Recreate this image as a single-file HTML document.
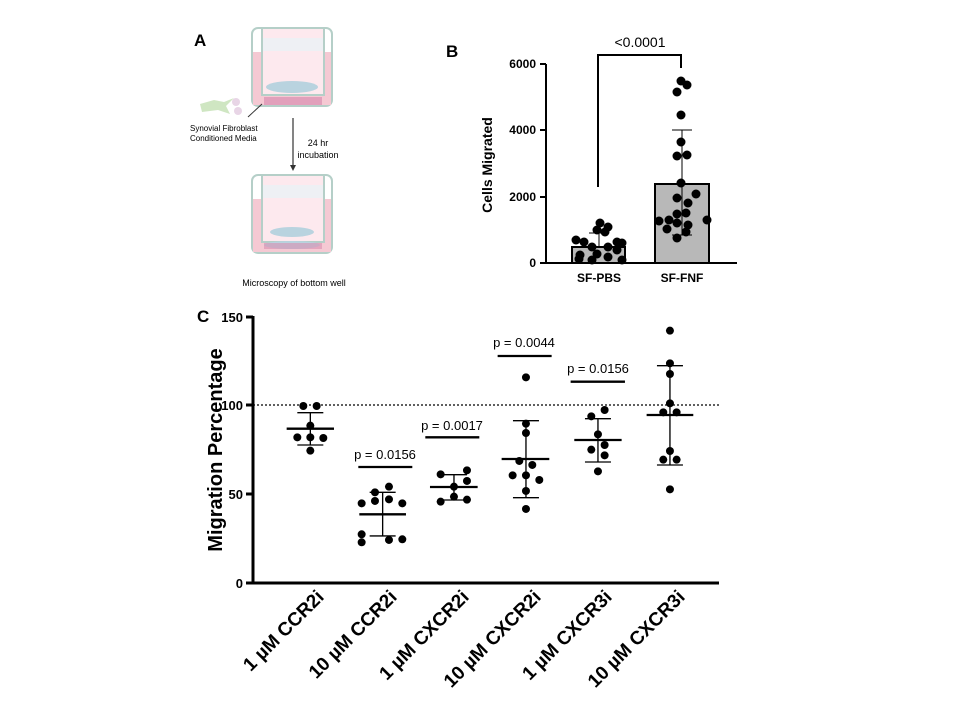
<!DOCTYPE html>
<html><head><meta charset="utf-8"><style>body{margin:0;background:#fff}svg{display:block}</style></head>
<body>
<svg width="960" height="720" viewBox="0 0 960 720" xmlns="http://www.w3.org/2000/svg" font-family="Liberation Sans, Arial, sans-serif">
<rect width="960" height="720" fill="#fff"/>
<!-- Panel A -->
<text x="194" y="46" font-size="17" font-weight="bold">A</text>
<g stroke="#b5cfc8" stroke-width="2" fill="none">
<rect x="252" y="28" width="80" height="78" rx="6" fill="#fff"/>
<rect x="252" y="175" width="80" height="78" rx="6" fill="#fff"/>
</g>
<rect x="253" y="52" width="78" height="53" fill="#f5c9d3"/>
<rect x="253" y="199" width="78" height="53" fill="#f5c9d3"/>
<rect x="262" y="28" width="62" height="67" fill="#fde9ee" stroke="#b5cfc8" stroke-width="2"/>
<rect x="262" y="175" width="62" height="67" fill="#fde9ee" stroke="#b5cfc8" stroke-width="2"/>
<rect x="263" y="38" width="60" height="13" fill="#eef0f4"/>
<rect x="263" y="185" width="60" height="13" fill="#eef0f4"/>
<g fill="#b9d3df">
<ellipse cx="292" cy="87" rx="26" ry="6"/><ellipse cx="292" cy="232" rx="22" ry="5"/>
<ellipse cx="292" cy="245" rx="28" ry="4"/>
</g>
<g fill="#d98fb0"><rect x="264" y="97" width="58" height="8" opacity="0.7"/><rect x="264" y="243" width="58" height="6" opacity="0.6"/></g>
<path d="M200 104 l14 -4 l10 2 l10 -4 l-8 8 l4 8 l-12 -4 l-16 2z" fill="#cfe6c2"/>
<circle cx="236" cy="102" r="4" fill="#e8d5e6"/><circle cx="238" cy="111" r="4" fill="#e8d5e6"/>
<line x1="248" y1="117" x2="262" y2="104" stroke="#333" stroke-width="1"/>
<text x="190" y="131" font-size="8">Synovial Fibroblast</text>
<text x="190" y="141" font-size="8">Conditioned Media</text>
<line x1="293" y1="118" x2="293" y2="168" stroke="#333" stroke-width="1.2"/>
<path d="M290 165 l3 6 l3 -6z" fill="#333"/>
<text x="318" y="146" font-size="9" text-anchor="middle">24 hr</text>
<text x="318" y="158" font-size="9" text-anchor="middle">incubation</text>
<text x="294" y="286" font-size="9" text-anchor="middle">Microscopy of bottom well</text>

<!-- Panel B -->
<text x="446" y="57" font-size="17" font-weight="bold">B</text>
<g stroke="#000" stroke-width="2" fill="none">
<line x1="546" y1="64" x2="546" y2="263"/><line x1="546" y1="263" x2="737" y2="263"/>
<line x1="540" y1="64" x2="546" y2="64"/><line x1="540" y1="130" x2="546" y2="130"/><line x1="540" y1="197" x2="546" y2="197"/><line x1="540" y1="263" x2="546" y2="263"/>
<rect x="572" y="247" width="53" height="16" fill="#b8b8b8"/>
<rect x="655" y="184" width="54" height="79" fill="#b8b8b8"/>
<polyline points="598,187 598,55 681,55 681,68"/>
</g>
<g stroke="#000" stroke-width="1"><line x1="682" y1="130" x2="682" y2="235"/><line x1="672" y1="130" x2="692" y2="130"/><line x1="672" y1="235" x2="692" y2="235"/>
<line x1="599" y1="233" x2="599" y2="247"/><line x1="589" y1="233" x2="609" y2="233"/></g>
<g font-size="12" font-weight="bold" text-anchor="end"><text x="536" y="68">6000</text><text x="536" y="134">4000</text><text x="536" y="201">2000</text><text x="536" y="267">0</text></g>
<text x="640" y="47" font-size="14" text-anchor="middle">&lt;0.0001</text>
<text x="599" y="282" font-size="12" font-weight="bold" text-anchor="middle">SF-PBS</text>
<text x="682" y="282" font-size="12" font-weight="bold" text-anchor="middle">SF-FNF</text>
<text transform="translate(492,165) rotate(-90)" font-size="14" font-weight="bold" text-anchor="middle">Cells Migrated</text>
<g fill="#000">
<circle cx="681" cy="81" r="4.5"/><circle cx="687" cy="85" r="4.5"/><circle cx="677" cy="92" r="4.5"/><circle cx="681" cy="115" r="4.5"/><circle cx="681" cy="142" r="4.5"/><circle cx="677" cy="156" r="4.5"/><circle cx="687" cy="155" r="4.5"/><circle cx="681" cy="183" r="4.5"/><circle cx="696" cy="194" r="4.5"/><circle cx="677" cy="198" r="4.5"/><circle cx="688" cy="203" r="4.5"/><circle cx="677" cy="214" r="4.5"/><circle cx="686" cy="213" r="4.5"/><circle cx="669" cy="220" r="4.5"/><circle cx="659" cy="221" r="4.5"/><circle cx="677" cy="223" r="4.5"/><circle cx="707" cy="220" r="4.5"/><circle cx="688" cy="225" r="4.5"/><circle cx="667" cy="229" r="4.5"/><circle cx="686" cy="232" r="4.5"/><circle cx="677" cy="238" r="4.5"/>
<circle cx="600" cy="223" r="4.5"/><circle cx="608" cy="227" r="4.5"/><circle cx="597" cy="230" r="4.5"/><circle cx="605" cy="232" r="4.5"/><circle cx="576" cy="240" r="4.5"/><circle cx="584" cy="242" r="4.5"/><circle cx="617" cy="242" r="4.5"/><circle cx="592" cy="247" r="4.5"/><circle cx="608" cy="247" r="4.5"/><circle cx="617" cy="250" r="4.5"/><circle cx="622" cy="243" r="4.5"/><circle cx="580" cy="255" r="4.5"/><circle cx="597" cy="254" r="4.5"/><circle cx="608" cy="257" r="4.5"/><circle cx="592" cy="260" r="4.5"/><circle cx="622" cy="260" r="4.5"/><circle cx="579" cy="259" r="4.5"/>
</g>

<!-- Panel C -->
<text x="197" y="322" font-size="17" font-weight="bold">C</text>
<g stroke="#000" stroke-width="3" fill="none">
<line x1="253" y1="316" x2="253" y2="584"/><line x1="252" y1="583" x2="719" y2="583"/>
<line x1="246" y1="317" x2="253" y2="317"/><line x1="246" y1="405" x2="253" y2="405"/><line x1="246" y1="494" x2="253" y2="494"/><line x1="246" y1="583" x2="253" y2="583"/>
</g>
<line x1="253" y1="405" x2="719" y2="405" stroke="#000" stroke-width="1.3" stroke-dasharray="2,2"/>
<g font-size="13" font-weight="bold" text-anchor="end"><text x="243" y="322">150</text><text x="243" y="410">100</text><text x="243" y="499">50</text><text x="243" y="588">0</text></g>
<text transform="translate(222,450) rotate(-90)" font-size="20" font-weight="bold" text-anchor="middle">Migration Percentage</text>
<g transform="translate(200,300) scale(0.3333)" stroke="#000" stroke-width="4" fill="none">
<line x1="331" y1="338" x2="331" y2="435"/><line x1="292" y1="338" x2="370" y2="338"/><line x1="292" y1="435" x2="370" y2="435"/>
<line x1="548" y1="577" x2="548" y2="708"/><line x1="509" y1="577" x2="587" y2="577"/><line x1="509" y1="708" x2="587" y2="708"/>
<line x1="762" y1="524" x2="762" y2="600"/><line x1="723" y1="524" x2="801" y2="524"/><line x1="723" y1="600" x2="801" y2="600"/>
<line x1="978" y1="362" x2="978" y2="593"/><line x1="939" y1="362" x2="1017" y2="362"/><line x1="939" y1="593" x2="1017" y2="593"/>
<line x1="1194" y1="356" x2="1194" y2="486"/><line x1="1155" y1="356" x2="1233" y2="356"/><line x1="1155" y1="486" x2="1233" y2="486"/>
<line x1="1410" y1="197" x2="1410" y2="495"/><line x1="1371" y1="197" x2="1449" y2="197"/><line x1="1371" y1="495" x2="1449" y2="495"/>
</g>
<g transform="translate(200,300) scale(0.3333)" stroke="#000" stroke-width="7">
<line x1="260" y1="386" x2="402" y2="386"/><line x1="478" y1="643" x2="618" y2="643"/><line x1="690" y1="561" x2="833" y2="561"/><line x1="905" y1="477" x2="1048" y2="477"/><line x1="1123" y1="420" x2="1265" y2="420"/><line x1="1340" y1="345" x2="1480" y2="345"/>
<line x1="475" y1="501" x2="637" y2="501"/><line x1="676" y1="412" x2="838" y2="412"/><line x1="893" y1="168" x2="1055" y2="168"/><line x1="1112" y1="245" x2="1275" y2="245"/>
</g>
<g transform="translate(200,300) scale(0.3333)" fill="#000">
<circle cx="310" cy="318" r="12"/><circle cx="350" cy="318" r="12"/><circle cx="331" cy="377" r="12"/><circle cx="292" cy="412" r="12"/><circle cx="331" cy="412" r="12"/><circle cx="370" cy="414" r="12"/><circle cx="331" cy="452" r="12"/>
<circle cx="485" cy="610" r="12"/><circle cx="525" cy="603" r="12"/><circle cx="567" cy="560" r="12"/><circle cx="525" cy="577" r="12"/><circle cx="567" cy="598" r="12"/><circle cx="607" cy="610" r="12"/><circle cx="485" cy="703" r="12"/><circle cx="485" cy="727" r="12"/><circle cx="567" cy="720" r="12"/><circle cx="607" cy="718" r="12"/>
<circle cx="722" cy="523" r="12"/><circle cx="762" cy="560" r="12"/><circle cx="801" cy="511" r="12"/><circle cx="801" cy="543" r="12"/><circle cx="722" cy="605" r="12"/><circle cx="762" cy="590" r="12"/><circle cx="801" cy="599" r="12"/>
<circle cx="978" cy="232" r="12"/><circle cx="978" cy="371" r="12"/><circle cx="978" cy="399" r="12"/><circle cx="958" cy="483" r="12"/><circle cx="997" cy="495" r="12"/><circle cx="938" cy="526" r="12"/><circle cx="978" cy="526" r="12"/><circle cx="1018" cy="540" r="12"/><circle cx="978" cy="573" r="12"/><circle cx="978" cy="627" r="12"/>
<circle cx="1214" cy="330" r="12"/><circle cx="1174" cy="349" r="12"/><circle cx="1194" cy="403" r="12"/><circle cx="1174" cy="449" r="12"/><circle cx="1214" cy="435" r="12"/><circle cx="1214" cy="466" r="12"/><circle cx="1194" cy="514" r="12"/>
<circle cx="1410" cy="92" r="12"/><circle cx="1410" cy="190" r="12"/><circle cx="1410" cy="222" r="12"/><circle cx="1410" cy="310" r="12"/><circle cx="1390" cy="337" r="12"/><circle cx="1430" cy="337" r="12"/><circle cx="1410" cy="453" r="12"/><circle cx="1390" cy="479" r="12"/><circle cx="1430" cy="479" r="12"/><circle cx="1410" cy="568" r="12"/>
</g>
<g font-size="13" text-anchor="middle">
<text x="385" y="459">p = 0.0156</text><text x="452" y="430">p = 0.0017</text><text x="524" y="347">p = 0.0044</text><text x="598" y="373">p = 0.0156</text>
</g>
<g font-size="19" font-weight="bold" text-anchor="end">
<text transform="translate(325,598) rotate(-45)">1 µM CCR2i</text>
<text transform="translate(398,598) rotate(-45)">10 µM CCR2i</text>
<text transform="translate(470,598) rotate(-45)">1 µM CXCR2i</text>
<text transform="translate(542,598) rotate(-45)">10 µM CXCR2i</text>
<text transform="translate(613,598) rotate(-45)">1 µM CXCR3i</text>
<text transform="translate(686,598) rotate(-45)">10 µM CXCR3i</text>
</g>
</svg>
</body></html>
